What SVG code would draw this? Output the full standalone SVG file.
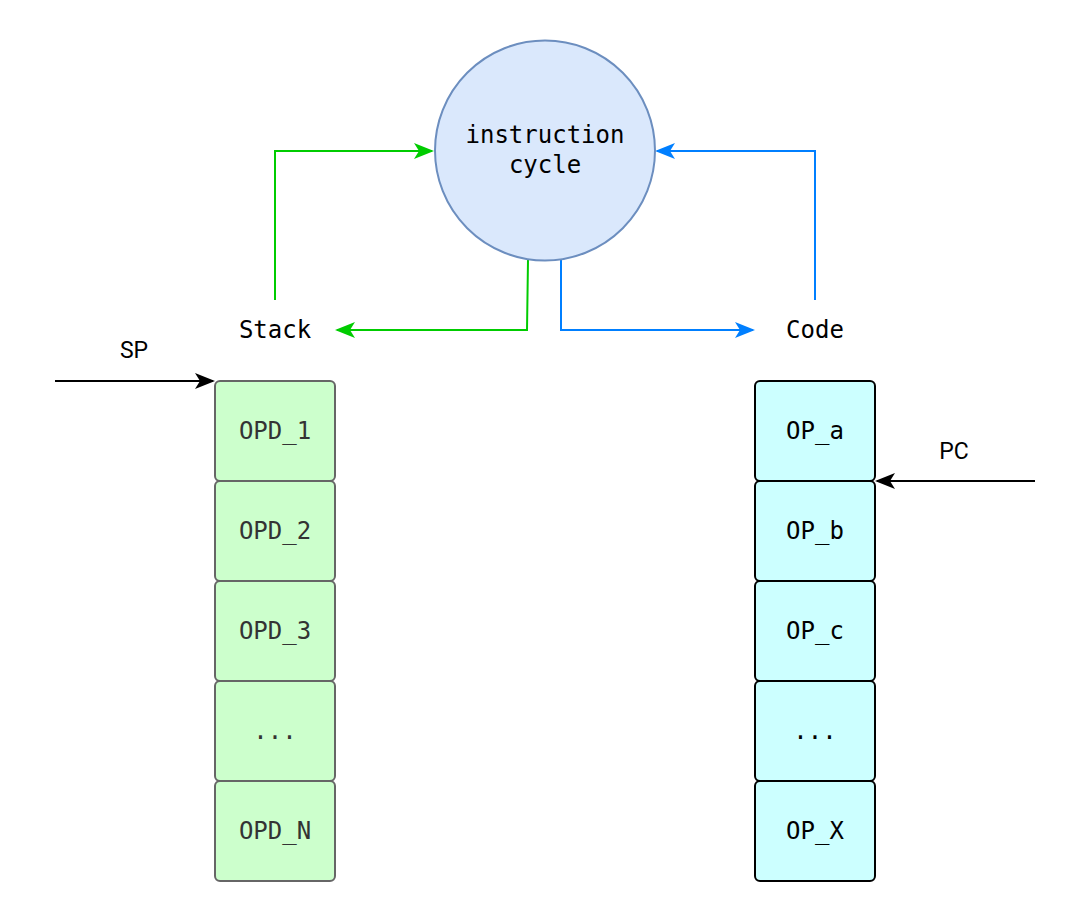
<svg xmlns="http://www.w3.org/2000/svg" width="1092" height="924" viewBox="0 0 1092 924">
<style>
.mono{font-family:"DejaVu Sans Mono","Liberation Mono",monospace;font-size:24px;text-anchor:middle;dominant-baseline:central}
.sans{font-family:Roboto,"Liberation Sans",sans-serif;font-size:23px;text-anchor:middle;dominant-baseline:central;fill:#000}
.stk{fill:#ccffcc;stroke:#666666;stroke-width:2}
.cod{fill:#ccffff;stroke:#000000;stroke-width:2}
.edge{fill:none;stroke-width:2}
</style>
<defs>
<marker id="ag" markerWidth="20" markerHeight="20" refX="18" refY="10" orient="auto" markerUnits="userSpaceOnUse" viewBox="0 0 20 20"><path d="M0,2 L20,10 L0,18 L5,10 Z" fill="#00CC00"/></marker>
<marker id="abl" markerWidth="20" markerHeight="20" refX="18" refY="10" orient="auto" markerUnits="userSpaceOnUse" viewBox="0 0 20 20"><path d="M0,2 L20,10 L0,18 L5,10 Z" fill="#007FFF"/></marker>
<marker id="ak" markerWidth="20" markerHeight="20" refX="18" refY="10" orient="auto" markerUnits="userSpaceOnUse" viewBox="0 0 20 20"><path d="M0,2 L20,10 L0,18 L5,10 Z" fill="#000"/></marker>
</defs>
<rect width="1092" height="924" fill="#ffffff"/>
<g id="connectors">
<path class="edge" stroke="#00CC00" d="M275,300 L275,151 L432,151" marker-end="url(#ag)"/>
<path class="edge" stroke="#00CC00" d="M528,260 L527,330 L337,330" marker-end="url(#ag)"/>
<path class="edge" stroke="#007FFF" d="M561,260 L561,330 L753,330" marker-end="url(#abl)"/>
<path class="edge" stroke="#007FFF" d="M815,300 L815,151 L657,151" marker-end="url(#abl)"/>
<path class="edge" stroke="#000" d="M55,381 L213,381" marker-end="url(#ak)"/>
<path class="edge" stroke="#000" d="M1035,481 L877,481" marker-end="url(#ak)"/>
</g>
<g id="cycle">
<circle cx="545" cy="150.5" r="110" fill="#dae8fc" stroke="#6c8ebf" stroke-width="2"/>
<text class="mono" x="545" y="135" fill="#000">instruction</text>
<text class="mono" x="545" y="165" fill="#000">cycle</text>
</g>
<g id="stack-label"><text class="mono" x="275" y="330" fill="#000">Stack</text></g>
<g id="code-label"><text class="mono" x="815" y="330" fill="#000">Code</text></g>
<g id="sp-label"><text class="sans" x="134" y="350">SP</text></g>
<g id="pc-label"><text class="sans" x="954" y="451">PC</text></g>
<g id="opd1"><rect class="stk" x="215" y="381" width="120" height="100" rx="5"/><text class="mono" x="275" y="431" fill="#333333">OPD_1</text></g>
<g id="opd2"><rect class="stk" x="215" y="481" width="120" height="100" rx="5"/><text class="mono" x="275" y="531" fill="#333333">OPD_2</text></g>
<g id="opd3"><rect class="stk" x="215" y="581" width="120" height="100" rx="5"/><text class="mono" x="275" y="631" fill="#333333">OPD_3</text></g>
<g id="opddots"><rect class="stk" x="215" y="681" width="120" height="100" rx="5"/><text class="mono" x="275" y="731" fill="#333333">...</text></g>
<g id="opdn"><rect class="stk" x="215" y="781" width="120" height="100" rx="5"/><text class="mono" x="275" y="831" fill="#333333">OPD_N</text></g>
<g id="opa"><rect class="cod" x="755" y="381" width="120" height="100" rx="5"/><text class="mono" x="815" y="431" fill="#000">OP_a</text></g>
<g id="opb"><rect class="cod" x="755" y="481" width="120" height="100" rx="5"/><text class="mono" x="815" y="531" fill="#000">OP_b</text></g>
<g id="opc"><rect class="cod" x="755" y="581" width="120" height="100" rx="5"/><text class="mono" x="815" y="631" fill="#000">OP_c</text></g>
<g id="opdots"><rect class="cod" x="755" y="681" width="120" height="100" rx="5"/><text class="mono" x="815" y="731" fill="#000">...</text></g>
<g id="opx"><rect class="cod" x="755" y="781" width="120" height="100" rx="5"/><text class="mono" x="815" y="831" fill="#000">OP_X</text></g>
</svg>
